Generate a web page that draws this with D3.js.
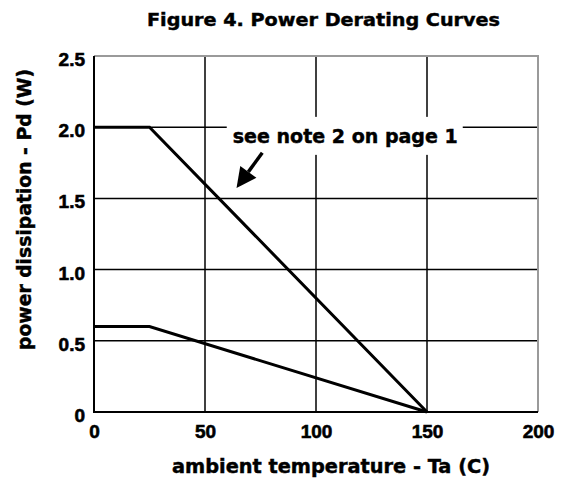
<!doctype html>
<html>
<head>
    <meta charset="utf-8">
    <title>Figure 4. Power Derating Curves</title>
    <script src="https://cdn.jsdelivr.net/npm/d3@7"></script>
    <style>
        body { margin: 0; background: #fff; }
        text { font-family: "DejaVu Sans", sans-serif; font-weight: bold; fill: #000; stroke: #000; stroke-width: 0.45px; }
        .tick text { font-family: "Liberation Sans", Arial, sans-serif; font-size: 19px; stroke-width: 0.6px; }
    </style>
</head>
<body>
<svg width="562" height="480"></svg>
<script>
    // data
    var xTicks = [0, 50, 100, 150, 200];
    var yTicks = [0, 0.5, 1.0, 1.5, 2.0, 2.5];
    var yTickLabels = ["0", "0.5", "1.0", "1.5", "2.0", "2.5"];
    var upperCurve = [[0, 2.0], [25, 2.0], [150, 0]];
    var lowerCurve = [[0, 0.6], [25, 0.6], [150, 0]];
    var noteText = "see note 2 on page 1";
    var notePos = [62.5, 1.89];        // text start (data units)
    var arrowFrom = [75.8, 1.82], arrowTo = [64.2, 1.573];

    var svg = d3.select("svg");
    svg.append("rect").attr("width", 562).attr("height", 480).attr("fill", "#fff");

    var x = d3.scaleLinear().domain([0, 200]).range([94, 538]);
    var y = d3.scaleLinear().domain([0, 2.5]).range([412, 56]);

    //网格
    var grid = svg.append("g").attr("stroke", "#000").attr("stroke-width", 1.5);
    grid.selectAll("line.v")
        .data(xTicks.filter(function (d) { return d > 0 && d < 200; }))
        .enter().append("line")
        .attr("x1", function (d) { return x(d); }).attr("x2", function (d) { return x(d); })
        .attr("y1", y(2.5)).attr("y2", y(0));
    grid.selectAll("line.h")
        .data(yTicks.filter(function (d) { return d > 0 && d < 2.5; }))
        .enter().append("line")
        .attr("x1", x(0)).attr("x2", x(200))
        .attr("y1", function (d) { return y(d); }).attr("y2", function (d) { return y(d); });

    // top / right border (grey), left / bottom (black)
    svg.append("path")
        .attr("d", "M" + x(0) + "," + y(2.5) + "H" + x(200) + "V" + y(0))
        .attr("fill", "none").attr("stroke", "#9a9a9a").attr("stroke-width", 2);
    svg.append("path")
        .attr("d", "M" + x(0) + "," + y(2.5) + "V" + y(0) + "H" + x(200))
        .attr("fill", "none").attr("stroke", "#000").attr("stroke-width", 2);

    //曲线
    var line = d3.line().x(function (d) { return x(d[0]); }).y(function (d) { return y(d[1]); });
    svg.selectAll("path.curve")
        .data([upperCurve, lowerCurve])
        .enter().append("path")
        .attr("class", "curve")
        .attr("d", line)
        .attr("fill", "none").attr("stroke", "#000").attr("stroke-width", 3)
        .attr("stroke-linejoin", "miter");

    //坐标轴
    var xAxis = svg.append("g")
        .attr("transform", "translate(0," + y(0) + ")")
        .call(d3.axisBottom(x).tickValues(xTicks).tickSize(0).tickPadding(7).tickFormat(d3.format("d")));
    var yAxis = svg.append("g")
        .attr("transform", "translate(" + x(0) + ",0)")
        .call(d3.axisLeft(y).tickValues(yTicks).tickSize(0).tickPadding(9)
            .tickFormat(function (d, i) { return yTickLabels[i]; }));
    xAxis.select(".domain").remove();
    yAxis.select(".domain").remove();
    xAxis.selectAll("text").attr("dy", "1em");
    yAxis.selectAll("text").attr("dy", "0.5em");

    // titles
    svg.append("text").attr("x", 147).attr("y", 26)
        .attr("font-size", 17.5).attr("textLength", 353).attr("lengthAdjust", "spacingAndGlyphs")
        .text("Figure 4. Power Derating Curves");
    svg.append("text").attr("x", 172).attr("y", 473)
        .attr("font-size", 19).attr("textLength", 318).attr("lengthAdjust", "spacingAndGlyphs")
        .text("ambient temperature - Ta (C)");
    svg.append("text").attr("transform", "translate(31,350) rotate(-90)")
        .attr("font-size", 19).attr("textLength", 281).attr("lengthAdjust", "spacingAndGlyphs")
        .text("power dissipation - Pd (W)");

    // note with white background
    var noteBg = svg.append("rect").attr("fill", "#fff");
    var note = svg.append("text")
        .attr("x", x(notePos[0])).attr("y", y(notePos[1]))
        .attr("font-size", 19.5).attr("textLength", 225).attr("lengthAdjust", "spacingAndGlyphs")
        .text(noteText);
    var bx = x(notePos[0]), by = y(notePos[1]);
    noteBg.attr("x", bx - 6).attr("y", by - 26).attr("width", 236).attr("height", 38);

    // arrow
    var ax1 = x(arrowFrom[0]), ay1 = y(arrowFrom[1]), ax2 = x(arrowTo[0]), ay2 = y(arrowTo[1]);
    var ang = Math.atan2(ay2 - ay1, ax2 - ax1), headLen = 20, headW = 10;
    var bxh = ax2 - headLen * Math.cos(ang), byh = ay2 - headLen * Math.sin(ang);
    svg.append("line")
        .attr("x1", ax1).attr("y1", ay1).attr("x2", bxh).attr("y2", byh)
        .attr("stroke", "#000").attr("stroke-width", 3.5);
    svg.append("path")
        .attr("d", "M" + ax2 + "," + ay2 +
            "L" + (bxh + headW * Math.sin(ang)) + "," + (byh - headW * Math.cos(ang)) +
            "L" + (bxh - headW * Math.sin(ang)) + "," + (byh + headW * Math.cos(ang)) + "Z")
        .attr("fill", "#000");
</script>
</body>
</html>
